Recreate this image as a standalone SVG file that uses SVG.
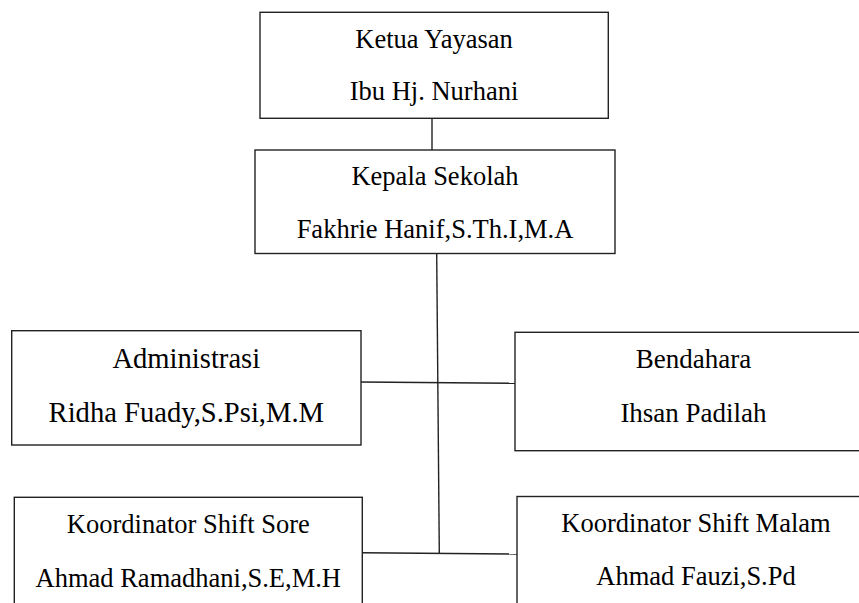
<svg xmlns="http://www.w3.org/2000/svg" width="859" height="603" viewBox="0 0 859 603">
<style>
.box{fill:#fff;stroke:#222;stroke-width:1.4}
.t{font-size:26.5px;fill:#000;text-anchor:middle}
.big{font-size:28.6px}
.ln{stroke:#222;stroke-width:1.4;fill:none}
</style>
<rect width="859" height="603" fill="#fff"/>
<g id="connectors">
<line class="ln" x1="432" y1="118" x2="432" y2="150"/>
<line class="ln" x1="436.7" y1="254" x2="439.3" y2="553"/>
<line class="ln" x1="361" y1="382" x2="515" y2="383.3"/>
<line class="ln" x1="362.3" y1="552.7" x2="517" y2="554"/>
</g>
<g font-family="'Liberation Serif', 'DejaVu Serif', serif">
<g id="ketua">
<rect class="box" x="260" y="12.3" width="348.3" height="106"/>
<text class="t" x="434" y="48.3">Ketua Yayasan</text>
<text class="t" x="434" y="100">Ibu Hj. Nurhani</text>
</g>
<g id="kepala">
<rect class="box" x="255" y="150" width="360" height="103.5"/>
<text class="t" x="435" y="185">Kepala Sekolah</text>
<text class="t" x="435" y="238.3">Fakhrie Hanif,S.Th.I,M.A</text>
</g>
<g id="administrasi">
<rect class="box" x="11.7" y="330.7" width="349.3" height="114.3"/>
<text class="t big" x="186.3" y="368">Administrasi</text>
<text class="t big" x="186.3" y="422">Ridha Fuady,S.Psi,M.M</text>
</g>
<g id="bendahara">
<rect class="box" x="515" y="332.3" width="360" height="118.4"/>
<text class="t" x="693.5" y="368" style="font-size:27px">Bendahara</text>
<text class="t" x="693.5" y="421.7" style="font-size:27px">Ihsan Padilah</text>
</g>
<g id="sore">
<rect class="box" x="14.3" y="497.3" width="348" height="120"/>
<text class="t" x="188.3" y="532.7">Koordinator Shift Sore</text>
<text class="t" x="188.3" y="586.7">Ahmad Ramadhani,S.E,M.H</text>
</g>
<g id="malam">
<rect class="box" x="517" y="496.5" width="360" height="120"/>
<text class="t" x="696" y="531.7">Koordinator Shift Malam</text>
<text class="t" x="696" y="585">Ahmad Fauzi,S.Pd</text>
</g>
</g>
</svg>
